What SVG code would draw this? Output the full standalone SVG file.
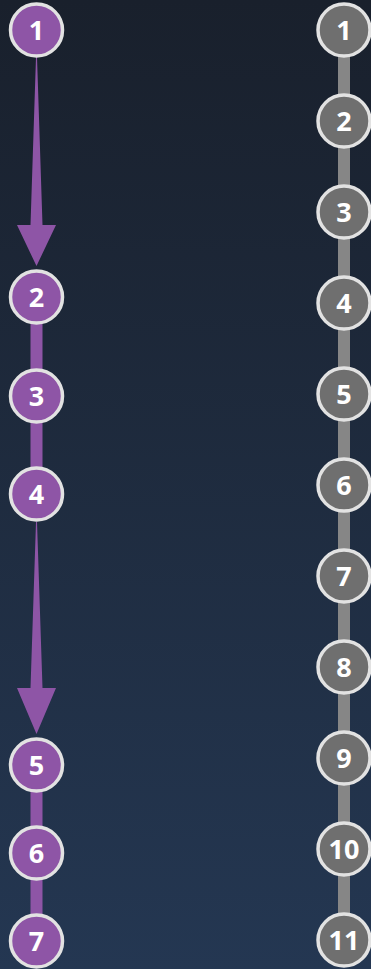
<svg xmlns="http://www.w3.org/2000/svg" width="371" height="969" viewBox="0 0 371 969">
<defs>
<linearGradient id="bg" x1="0" y1="0" x2="0" y2="1">
<stop offset="0" stop-color="#19202c"/>
<stop offset="1" stop-color="#243752"/>
</linearGradient>
<style>
.p circle{fill:#8e55a6;stroke:#e2e2e2;stroke-width:3.5}
.g circle{fill:#6f6f6f;stroke:#e2e2e2;stroke-width:3.5}
text{font-family:"Open Sans","DejaVu Sans",sans-serif;font-weight:bold;font-size:27px;fill:#fff;text-anchor:middle;dominant-baseline:central}
.pl{fill:#8e55a6}
.gl{fill:#868686}
</style>
</defs>
<rect width="371" height="969" fill="url(#bg)"/>
<g id="connectors">
<rect class="gl" x="338" y="30" width="12" height="910"/>
<rect class="pl" x="30.5" y="297" width="12" height="197"/>
<rect class="pl" x="30.5" y="765" width="12" height="176"/>
<polygon class="pl" points="36,57 37,57 42.5,225 56,225 36.5,266 17,225 30.5,225"/>
<polygon class="pl" points="36,522 37,522 42.5,688 56,688 36.5,734 17,688 30.5,688"/>
</g>
<g id="L1" class="p"><circle cx="36.5" cy="30" r="26"/><text x="36.5" y="29">1</text></g>
<g id="L2" class="p"><circle cx="36.5" cy="297" r="26"/><text x="36.5" y="296">2</text></g>
<g id="L3" class="p"><circle cx="36.5" cy="396" r="26"/><text x="36.5" y="395">3</text></g>
<g id="L4" class="p"><circle cx="36.5" cy="494" r="26"/><text x="36.5" y="493">4</text></g>
<g id="L5" class="p"><circle cx="36.5" cy="765" r="26"/><text x="36.5" y="764">5</text></g>
<g id="L6" class="p"><circle cx="36.5" cy="853" r="26"/><text x="36.5" y="852">6</text></g>
<g id="L7" class="p"><circle cx="36.5" cy="941" r="26"/><text x="36.5" y="940">7</text></g>
<g id="R1" class="g"><circle cx="344" cy="30" r="26"/><text x="344" y="29">1</text></g>
<g id="R2" class="g"><circle cx="344" cy="121" r="26"/><text x="344" y="120">2</text></g>
<g id="R3" class="g"><circle cx="344" cy="212" r="26"/><text x="344" y="211">3</text></g>
<g id="R4" class="g"><circle cx="344" cy="303" r="26"/><text x="344" y="302">4</text></g>
<g id="R5" class="g"><circle cx="344" cy="394" r="26"/><text x="344" y="393">5</text></g>
<g id="R6" class="g"><circle cx="344" cy="485" r="26"/><text x="344" y="484">6</text></g>
<g id="R7" class="g"><circle cx="344" cy="576" r="26"/><text x="344" y="575">7</text></g>
<g id="R8" class="g"><circle cx="344" cy="667" r="26"/><text x="344" y="666">8</text></g>
<g id="R9" class="g"><circle cx="344" cy="758" r="26"/><text x="344" y="757">9</text></g>
<g id="R10" class="g"><circle cx="344" cy="849" r="26"/><text x="344" y="848">10</text></g>
<g id="R11" class="g"><circle cx="344" cy="940" r="26"/><text x="344" y="939">11</text></g>
</svg>
